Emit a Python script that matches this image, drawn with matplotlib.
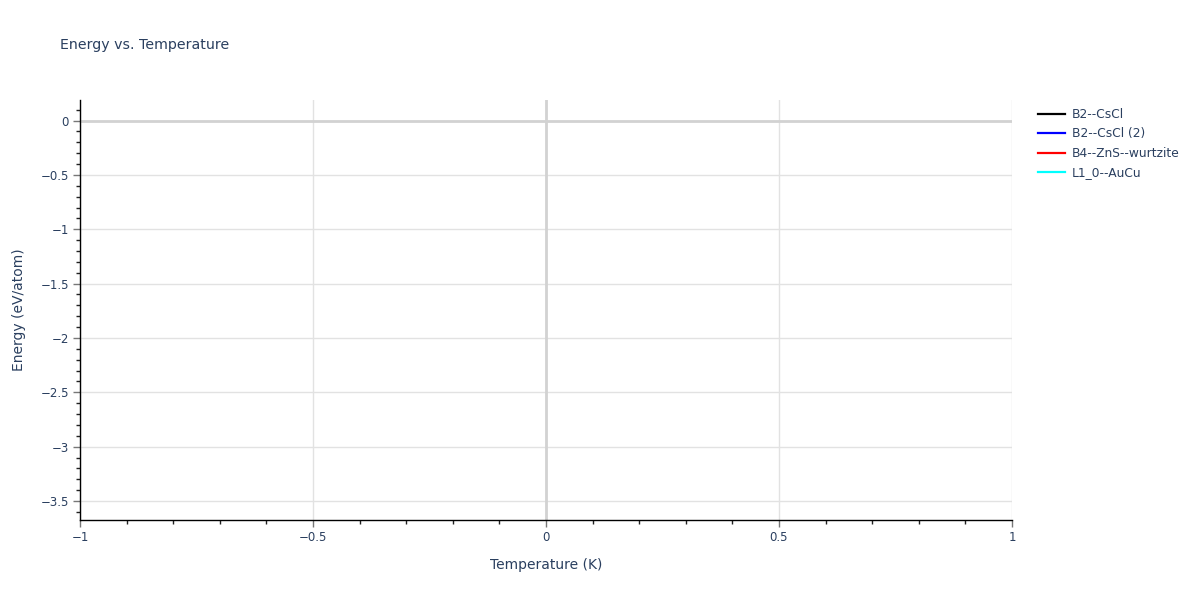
import numpy as np
import matplotlib
matplotlib.use("Agg")
import matplotlib.pyplot as plt
from matplotlib.ticker import MultipleLocator, FuncFormatter
from matplotlib.lines import Line2D

# each structure has a single point at T = 0, so no line segment is drawn
names = ["B2--CsCl", "B2--CsCl (2)", "B4--ZnS--wurtzite", "L1_0--AuCu"]
colors = ["black", "blue", "red", "cyan"]
temps = [[0.0], [0.0], [0.0], [0.0]]
energies = [[-3.48], [-3.47], [-3.40], [0.0]]

plt.rcParams['font.family'] = ['DejaVu Sans']
txt = '#2a3f5f'

fig = plt.figure(figsize=(12, 6), dpi=100)
ax = fig.add_axes([80 / 1200, 80 / 600, 932 / 1200, 420 / 600])

for t, e, c in zip(temps, energies, colors):
    ax.plot(t, e, color=c, linewidth=2)

ax.set_xlim(-1, 1)
ax.set_ylim(-3.675, 0.189)

ax.xaxis.set_major_locator(MultipleLocator(0.5))
ax.xaxis.set_minor_locator(MultipleLocator(0.1))
ax.yaxis.set_major_locator(MultipleLocator(0.5))
ax.yaxis.set_minor_locator(MultipleLocator(0.1))
fmt = FuncFormatter(lambda v, p: ('%g' % round(v, 3)).replace('-', '\u2212'))
ax.xaxis.set_major_formatter(fmt)
ax.yaxis.set_major_formatter(fmt)

ax.grid(True, which='major', color='#e2e2e2', linewidth=1)
ax.axhline(0, color='#d2d2d2', linewidth=2, zorder=1)
ax.axvline(0, color='#d2d2d2', linewidth=2, zorder=1)
ax.set_axisbelow(True)

for s in ['top', 'right']:
    ax.spines[s].set_visible(False)
for s in ['left', 'bottom']:
    ax.spines[s].set_color('black')
    ax.spines[s].set_linewidth(1)

ax.tick_params(which='major', direction='out', length=5, width=1, color='#777777',
               labelsize=8.5, labelcolor=txt, pad=3)
ax.tick_params(which='minor', direction='out', length=3, width=1, color='#222222')

ax.set_xlabel("Temperature (K)", fontsize=10, color=txt, labelpad=10)
ax.set_ylabel("Energy (eV/atom)", fontsize=10, color=txt, labelpad=10)
fig.text(60 / 1200, 1 - 45 / 600, "Energy vs. Temperature", fontsize=10.2, color=txt,
         va='center', ha='left')

handles = [Line2D([0], [0], color=c, linewidth=1.6) for c in colors]
leg = fig.legend(handles, names, loc='upper left', bbox_to_anchor=(1033 / 1200, 1 - 103 / 600),
                 frameon=False, fontsize=8.8, handlelength=2.2, handletextpad=0.6,
                 labelspacing=0.53, borderaxespad=0)
for t in leg.get_texts():
    t.set_color(txt)

fig.savefig("out.png", dpi=100)
